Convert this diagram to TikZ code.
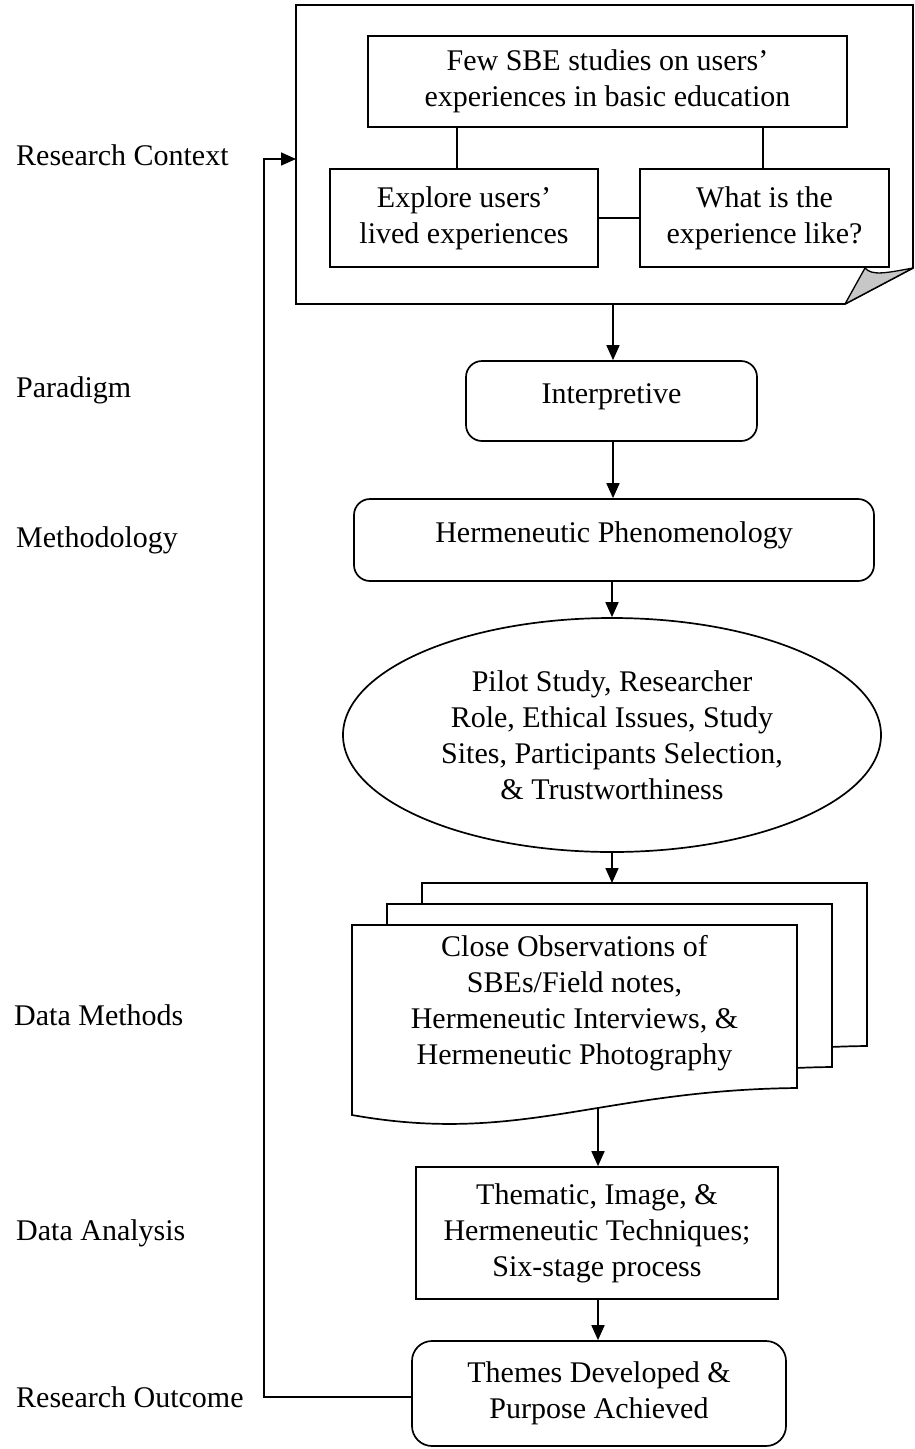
\documentclass[tikz,border=0pt]{standalone}
\usepackage{fontspec}
\setmainfont{Liberation Serif}
\usetikzlibrary{arrows.meta,shapes.geometric}
\begin{document}
\begin{tikzpicture}[x=1pt,y=-1pt,
  every node/.style={font=\fontsize{30}{36}\selectfont},
  base/.style={draw, line width=1.7pt, fill=white, align=center, inner sep=0pt},
  sqbox/.style={base},
  rbox/.style={base, rounded corners=16pt},
  lbl/.style={anchor=west, inner sep=0pt},
  link/.style={line width=1.7pt},
  docline/.style={line width=1.7pt, fill=white, line join=miter},
  arr/.style={line width=1.7pt, -{Triangle[length=15pt,width=13pt]}},
]
\useasboundingbox (0,0) rectangle (915,1449);

% stage labels on the left
\node[lbl] (lctx) at (16,155)  {Research Context};
\node[lbl] (lpar) at (16,390)  {Paradigm};
\node[lbl] (lmet) at (16,540)  {Methodology};
\node[lbl] (ldm)  at (14,1015) {Data Methods};
\node[lbl] (lda)  at (16,1233) {Data Analysis};
\node[lbl] (lout) at (16,1397) {Research Outcome};

% research context: note with folded corner
\draw[line width=1.7pt, line join=miter]
  (296,5) -- (913,5) -- (913,268) -- (845,304) -- (296,304) -- cycle;
\draw[line width=1.3pt, fill=black!22, line join=round]
  (845,304) -- (865,268) .. controls (872,276) and (886,273) .. (913,268) -- cycle;
\coordinate (noteL) at (296,159);
\coordinate (noteB) at (613,304);

\node[sqbox, minimum width=479, minimum height=91] (few) at (607.5,81.5)
  {Few SBE studies on users’\\experiences in basic education};
\node[sqbox, minimum width=268, minimum height=98] (explore) at (464,218)
  {Explore users’\\lived experiences};
\node[sqbox, minimum width=249, minimum height=98] (what) at (764.5,218)
  {What is the\\experience like?};
\draw[link] (few.south -| 457,0) -- (explore.north -| 457,0);
\draw[link] (few.south -| 763,0) -- (what.north -| 763,0);
\draw[link] (explore.east) -- (what.west);

% paradigm and methodology
\node[rbox, minimum width=291, minimum height=80, text height=20pt, text depth=16pt]
  (interp) at (611.5,401) {Interpretive};
\node[rbox, minimum width=520, minimum height=82, text height=20pt, text depth=16pt]
  (herm) at (614,540) {Hermeneutic Phenomenology};

% design issues
\node[base, ellipse, minimum width=538, minimum height=234] (design) at (612,735)
  {Pilot Study, Researcher\\Role, Ethical Issues, Study\\Sites, Participants Selection,\\\& Trustworthiness};

% data methods: stacked documents
\foreach \dx/\dy in {70/-42, 35/-21, 0/0} {
  \draw[docline, shift={(\dx,\dy)}]
    (352,925) -- (797,925) -- (797,1088)
    .. controls (600,1090) and (520,1145) .. (352,1115) -- cycle;
}
\coordinate (docTop) at (612,883);
\coordinate (docBot) at (598,1108);
\node[align=center, inner sep=0pt] (methods) at (574.5,1003)
  {Close Observations of\\SBEs/Field notes,\\Hermeneutic Interviews, \&\\Hermeneutic Photography};

% analysis and outcome
\node[sqbox, minimum width=362, minimum height=132] (analysis) at (597,1233)
  {Thematic, Image, \&\\Hermeneutic Techniques;\\Six-stage process};
\node[rbox, rounded corners=20pt, minimum width=374, minimum height=105] (themes) at (599,1393.5)
  {Themes Developed \&\\Purpose Achieved};

% flow arrows
\draw[arr] (noteB) -- (noteB |- interp.north);
\draw[arr] (interp.south -| 613,0) -- (herm.north -| 613,0);
\draw[arr] (herm.south -| 612,0) -- (design.north);
\draw[arr] (design.south) -- (docTop);
\draw[arr] (docBot) -- (docBot |- analysis.north);
\draw[arr] (analysis.south -| 598,0) -- (themes.north -| 598,0);

% feedback loop back to the research context
\draw[arr, line join=miter] (themes.west |- 0,1397) -| (264,159) -- (noteL);
\end{tikzpicture}
\end{document}
